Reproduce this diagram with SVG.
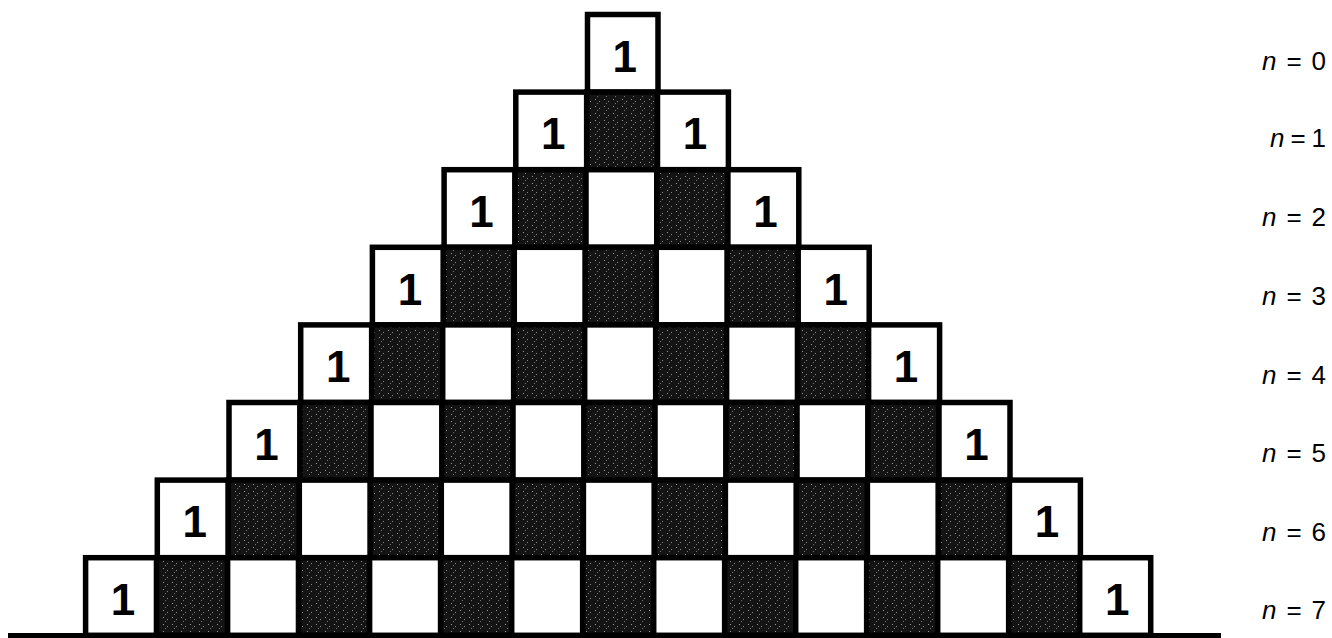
<svg xmlns="http://www.w3.org/2000/svg" width="1332" height="638" viewBox="0 0 1332 638">
<style>
.w{fill:#fff;stroke:#000;stroke-width:5.5}
.d{fill:url(#speck);stroke:#000;stroke-width:5.5}
.one{font-family:"Liberation Sans",Arial,sans-serif;font-weight:bold;font-size:44px;text-anchor:middle;fill:#000}
.lab{font-family:"Liberation Sans",Arial,sans-serif;font-size:26px;fill:#000}
.lab tspan.i{font-style:italic}
</style>
<defs>
<pattern id="speck" width="9" height="7" patternUnits="userSpaceOnUse">
<rect width="9" height="7" fill="#141414"/>
<rect x="1" y="1" width="1" height="1" fill="#9a9a9a"/>
<rect x="5" y="3" width="1" height="1" fill="#8a8a8a"/>
<rect x="3" y="5" width="1" height="1" fill="#777"/>
</pattern>
</defs>
<rect width="1332" height="638" fill="#fff"/>
<g id="connectors">
<line x1="8" y1="635.5" x2="1221" y2="635.5" stroke="#000" stroke-width="5"/>
</g>
<!-- row 0 -->
<g id="r0c0"><rect class="w" x="587.5" y="14.5" width="70.5" height="77.6"/><text class="one" x="624.8" y="71.8">1</text></g>
<!-- row 1 -->
<g id="r1c0"><rect class="w" x="515.8" y="92.1" width="70.9" height="77.6"/><text class="one" x="553.2" y="149.4">1</text></g>
<g id="r1c1"><rect class="d" x="586.7" y="92.1" width="70.9" height="77.6"/></g>
<g id="r1c2"><rect class="w" x="657.5" y="92.1" width="70.9" height="77.6"/><text class="one" x="694.9" y="149.4">1</text></g>
<!-- row 2 -->
<g id="r2c0"><rect class="w" x="444.1" y="169.7" width="70.9" height="77.6"/><text class="one" x="481.6" y="227">1</text></g>
<g id="r2c1"><rect class="d" x="515.0" y="169.7" width="70.9" height="77.6"/></g>
<g id="r2c2"><rect class="w" x="586.0" y="169.7" width="70.9" height="77.6"/></g>
<g id="r2c3"><rect class="d" x="656.9" y="169.7" width="70.9" height="77.6"/></g>
<g id="r2c4"><rect class="w" x="727.9" y="169.7" width="70.9" height="77.6"/><text class="one" x="765.4" y="227">1</text></g>
<!-- row 3 -->
<g id="r3c0"><rect class="w" x="372.4" y="247.3" width="71" height="77.6"/><text class="one" x="409.9" y="304.6">1</text></g>
<g id="r3c1"><rect class="d" x="443.4" y="247.3" width="71" height="77.6"/></g>
<g id="r3c2"><rect class="w" x="514.3" y="247.3" width="71" height="77.6"/></g>
<g id="r3c3"><rect class="d" x="585.3" y="247.3" width="71" height="77.6"/></g>
<g id="r3c4"><rect class="w" x="656.3" y="247.3" width="71" height="77.6"/></g>
<g id="r3c5"><rect class="d" x="727.3" y="247.3" width="71" height="77.6"/></g>
<g id="r3c6"><rect class="w" x="798.2" y="247.3" width="71" height="77.6"/><text class="one" x="835.7" y="304.6">1</text></g>
<!-- row 4 -->
<g id="r4c0"><rect class="w" x="300.7" y="324.9" width="71" height="77.6"/><text class="one" x="338.2" y="382.2">1</text></g>
<g id="r4c1"><rect class="d" x="371.7" y="324.9" width="71" height="77.6"/></g>
<g id="r4c2"><rect class="w" x="442.7" y="324.9" width="71" height="77.6"/></g>
<g id="r4c3"><rect class="d" x="513.7" y="324.9" width="71" height="77.6"/></g>
<g id="r4c4"><rect class="w" x="584.7" y="324.9" width="71" height="77.6"/></g>
<g id="r4c5"><rect class="d" x="655.7" y="324.9" width="71" height="77.6"/></g>
<g id="r4c6"><rect class="w" x="726.6" y="324.9" width="71" height="77.6"/></g>
<g id="r4c7"><rect class="d" x="797.6" y="324.9" width="71" height="77.6"/></g>
<g id="r4c8"><rect class="w" x="868.6" y="324.9" width="71" height="77.6"/><text class="one" x="906.1" y="382.2">1</text></g>
<!-- row 5 -->
<g id="r5c0"><rect class="w" x="229.0" y="402.5" width="71" height="77.6"/><text class="one" x="266.5" y="459.8">1</text></g>
<g id="r5c1"><rect class="d" x="300.0" y="402.5" width="71" height="77.6"/></g>
<g id="r5c2"><rect class="w" x="371.0" y="402.5" width="71" height="77.6"/></g>
<g id="r5c3"><rect class="d" x="442.0" y="402.5" width="71" height="77.6"/></g>
<g id="r5c4"><rect class="w" x="513.0" y="402.5" width="71" height="77.6"/></g>
<g id="r5c5"><rect class="d" x="584.0" y="402.5" width="71" height="77.6"/></g>
<g id="r5c6"><rect class="w" x="655.0" y="402.5" width="71" height="77.6"/></g>
<g id="r5c7"><rect class="d" x="726.0" y="402.5" width="71" height="77.6"/></g>
<g id="r5c8"><rect class="w" x="797.0" y="402.5" width="71" height="77.6"/></g>
<g id="r5c9"><rect class="d" x="868.0" y="402.5" width="71" height="77.6"/></g>
<g id="r5c10"><rect class="w" x="939.0" y="402.5" width="71" height="77.6"/><text class="one" x="976.5" y="459.8">1</text></g>
<!-- row 6 -->
<g id="r6c0"><rect class="w" x="157.3" y="480.1" width="71" height="77.6"/><text class="one" x="194.8" y="537.4">1</text></g>
<g id="r6c1"><rect class="d" x="228.3" y="480.1" width="71" height="77.6"/></g>
<g id="r6c2"><rect class="w" x="299.3" y="480.1" width="71" height="77.6"/></g>
<g id="r6c3"><rect class="d" x="370.3" y="480.1" width="71" height="77.6"/></g>
<g id="r6c4"><rect class="w" x="441.3" y="480.1" width="71" height="77.6"/></g>
<g id="r6c5"><rect class="d" x="512.4" y="480.1" width="71" height="77.6"/></g>
<g id="r6c6"><rect class="w" x="583.4" y="480.1" width="71" height="77.6"/></g>
<g id="r6c7"><rect class="d" x="654.4" y="480.1" width="71" height="77.6"/></g>
<g id="r6c8"><rect class="w" x="725.4" y="480.1" width="71" height="77.6"/></g>
<g id="r6c9"><rect class="d" x="796.4" y="480.1" width="71" height="77.6"/></g>
<g id="r6c10"><rect class="w" x="867.4" y="480.1" width="71" height="77.6"/></g>
<g id="r6c11"><rect class="d" x="938.4" y="480.1" width="71" height="77.6"/></g>
<g id="r6c12"><rect class="w" x="1009.4" y="480.1" width="71" height="77.6"/><text class="one" x="1046.9" y="537.4">1</text></g>
<!-- row 7 -->
<g id="r7c0"><rect class="w" x="85.6" y="557.7" width="71" height="77.6"/><text class="one" x="123.1" y="615">1</text></g>
<g id="r7c1"><rect class="d" x="156.6" y="557.7" width="71" height="77.6"/></g>
<g id="r7c2"><rect class="w" x="227.6" y="557.7" width="71" height="77.6"/></g>
<g id="r7c3"><rect class="d" x="298.6" y="557.7" width="71" height="77.6"/></g>
<g id="r7c4"><rect class="w" x="369.6" y="557.7" width="71" height="77.6"/></g>
<g id="r7c5"><rect class="d" x="440.7" y="557.7" width="71" height="77.6"/></g>
<g id="r7c6"><rect class="w" x="511.7" y="557.7" width="71" height="77.6"/></g>
<g id="r7c7"><rect class="d" x="582.7" y="557.7" width="71" height="77.6"/></g>
<g id="r7c8"><rect class="w" x="653.7" y="557.7" width="71" height="77.6"/></g>
<g id="r7c9"><rect class="d" x="724.7" y="557.7" width="71" height="77.6"/></g>
<g id="r7c10"><rect class="w" x="795.7" y="557.7" width="71" height="77.6"/></g>
<g id="r7c11"><rect class="d" x="866.7" y="557.7" width="71" height="77.6"/></g>
<g id="r7c12"><rect class="w" x="937.7" y="557.7" width="71" height="77.6"/></g>
<g id="r7c13"><rect class="d" x="1008.7" y="557.7" width="71" height="77.6"/></g>
<g id="r7c14"><rect class="w" x="1079.7" y="557.7" width="71" height="77.6"/><text class="one" x="1117.2" y="615">1</text></g>
<!-- labels -->
<g id="labels">
<text class="lab" x="1262" y="70" textLength="64" lengthAdjust="spacing"><tspan class="i">n</tspan> = 0</text>
<text class="lab" x="1270" y="147" textLength="56" lengthAdjust="spacing"><tspan class="i">n</tspan> = 1</text>
<text class="lab" x="1262" y="226" textLength="64" lengthAdjust="spacing"><tspan class="i">n</tspan> = 2</text>
<text class="lab" x="1262" y="305" textLength="64" lengthAdjust="spacing"><tspan class="i">n</tspan> = 3</text>
<text class="lab" x="1262" y="384" textLength="64" lengthAdjust="spacing"><tspan class="i">n</tspan> = 4</text>
<text class="lab" x="1262" y="462" textLength="64" lengthAdjust="spacing"><tspan class="i">n</tspan> = 5</text>
<text class="lab" x="1262" y="541" textLength="64" lengthAdjust="spacing"><tspan class="i">n</tspan> = 6</text>
<text class="lab" x="1262" y="619" textLength="64" lengthAdjust="spacing"><tspan class="i">n</tspan> = 7</text>
</g>
</svg>
